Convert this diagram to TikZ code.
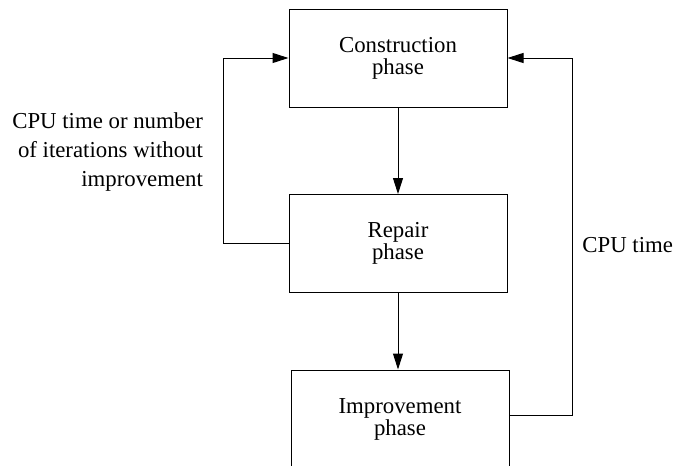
\documentclass[tikz,border=0pt]{standalone}
\usepackage{fontspec}
\setmainfont{Liberation Serif}
\usetikzlibrary{arrows.meta}

\begin{document}
\begin{tikzpicture}[x=0.5pt,y=-0.5pt,
  phasebox/.style={draw,line width=0.5pt,minimum width=109pt,minimum height=49pt,
    inner sep=0pt,align=center,font=\fontsize{11.4}{11}\selectfont},
  flow/.style={line width=0.5pt,-{Triangle[length=8pt,width=5pt]}},
  loop/.style={line width=0.5pt}]

\useasboundingbox (0,0) rectangle (675,466);

\begin{scope}
\node[phasebox] (cons) at (398,58) {Construction\\phase};
\node[phasebox] (rep) at (398,243.5) {Repair\\phase};
\node[phasebox] (imp) at (400,419) {Improvement\\phase};

\coordinate (l) at (223,0);
\coordinate (r) at (572,0);

\draw[flow] (cons.south) -- (cons.south |- rep.north);
\draw[flow] (rep.south) -- (rep.south |- imp.north);

\draw[flow] (rep.west) -- (rep.west -| l) |- (cons.west);
\draw[flow] ([yshift=2pt]imp.east) -- ([yshift=2pt]imp.east -| r) |- (cons.east);

\node[anchor=east,align=right,font=\fontsize{11.4}{14.5}\selectfont] (stop) at (210,152)
  {CPU time or number\\of iterations without\\improvement};
\node[anchor=west,inner sep=0pt,font=\fontsize{11.4}{14.5}\selectfont] (cpu) at (582,245) {CPU time};
\end{scope}

\end{tikzpicture}
\end{document}
